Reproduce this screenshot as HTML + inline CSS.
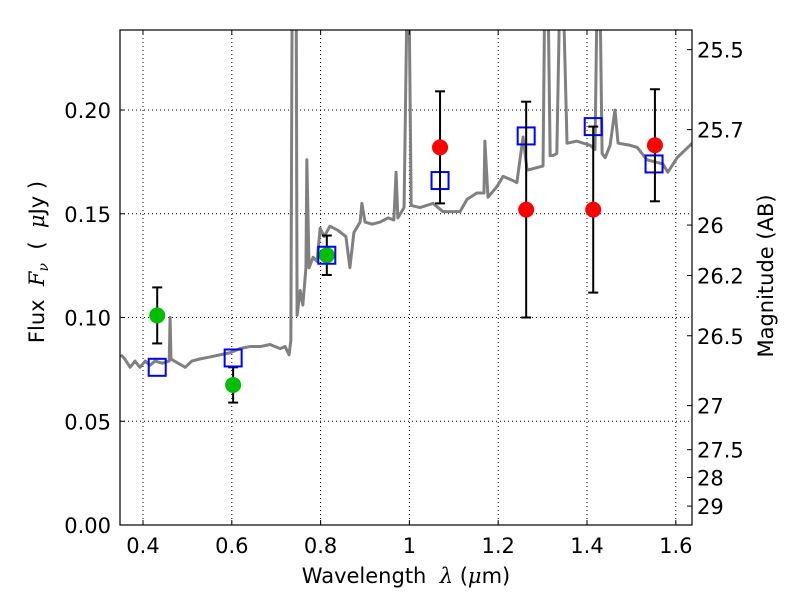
<!DOCTYPE html>
<html><head><meta charset="utf-8"><style>
body{margin:0;background:#fff;}
svg text{font-family:"DejaVu Sans","Liberation Sans",sans-serif;fill:#000;}
</style></head><body>
<svg id="chart" width="800" height="600" viewBox="0 0 800 600" xmlns="http://www.w3.org/2000/svg">
<rect width="800" height="600" fill="#fff"/>
<g id="grid"></g>
<g id="spec"></g>
<g id="marks"></g>
<g id="axes"></g>
<text x="406" y="583" font-size="21" text-anchor="middle">Wavelength&#160;&#160;<tspan font-family="DejaVu Serif" font-style="italic">λ</tspan> (<tspan font-family="DejaVu Serif" font-style="italic">μ</tspan>m)</text>
<text transform="translate(44,262) rotate(-90)" font-size="21" text-anchor="middle">Flux&#160;&#160;<tspan font-family="DejaVu Serif" font-style="italic">F</tspan><tspan font-family="DejaVu Serif" font-style="italic" font-size="14" dy="4">ν</tspan><tspan dy="-4">&#160;&#160;(&#160;&#160;</tspan><tspan font-family="DejaVu Serif" font-style="italic">μ</tspan>Jy&#160;)</text>
<text transform="translate(773,276) rotate(-90)" font-size="21" text-anchor="middle">Magnitude (AB)</text>
</svg>
<script>
const specLam=[0.35,0.359,0.371,0.382,0.393,0.405,0.416,0.427,0.443,0.459,0.461,0.463,0.479,0.495,0.510,0.528,0.551,0.573,0.596,0.618,0.641,0.664,0.686,0.709,0.720,0.729,0.733,0.736,0.745,0.747,0.754,0.760,0.767,0.769,0.774,0.783,0.792,0.799,0.808,0.821,0.839,0.857,0.866,0.875,0.889,0.893,0.900,0.916,0.934,0.952,0.965,0.970,0.974,0.988,0.995,0.999,1.004,1.024,1.053,1.076,1.114,1.130,1.152,1.168,1.170,1.177,1.197,1.211,1.233,1.242,1.256,1.265,1.301,1.305,1.312,1.317,1.323,1.332,1.339,1.346,1.355,1.377,1.407,1.418,1.423,1.429,1.434,1.441,1.452,1.463,1.470,1.497,1.513,1.535,1.571,1.582,1.603,1.637];
const specFlux=[0.082,0.080,0.076,0.079,0.076,0.079,0.077,0.079,0.078,0.079,0.100,0.080,0.078,0.076,0.079,0.080,0.081,0.082,0.083,0.085,0.086,0.086,0.087,0.085,0.086,0.082,0.089,0.26,0.26,0.101,0.113,0.106,0.124,0.176,0.124,0.129,0.127,0.143,0.139,0.144,0.142,0.139,0.124,0.141,0.146,0.155,0.146,0.145,0.146,0.148,0.147,0.170,0.148,0.153,0.26,0.26,0.154,0.153,0.155,0.151,0.151,0.157,0.160,0.160,0.185,0.158,0.163,0.168,0.166,0.165,0.187,0.171,0.173,0.26,0.26,0.178,0.178,0.179,0.26,0.26,0.184,0.185,0.183,0.181,0.26,0.26,0.179,0.177,0.183,0.200,0.184,0.183,0.182,0.176,0.174,0.170,0.177,0.184];
const greenLam=[0.432,0.603,0.814];
const greenFlux=[0.101,0.0675,0.130];
const greenErr=[0.0135,0.0085,0.0095];
const redLam=[1.069,1.263,1.414,1.553];
const redFlux=[0.182,0.152,0.152,0.183];
const redErr=[0.027,0.052,0.040,0.027];
const boxLam=[0.432,0.603,0.814,1.069,1.263,1.414,1.551];
const boxFlux=[0.076,0.0805,0.130,0.166,0.1875,0.192,0.174];
const xTicks=[0.4,0.6,0.8,1.0,1.2,1.4,1.6];
const xTickLabels=["0.4","0.6","0.8","1","1.2","1.4","1.6"];
const yTicks=[0,0.05,0.10,0.15,0.20];
const yTickLabels=["0.00","0.05","0.10","0.15","0.20"];
const magTicks=[25.5,25.7,26,26.2,26.5,27,27.5,28,29];
const magTickLabels=["25.5","25.7","26","26.2","26.5","27","27.5","28","29"];

const L=120,R=692,T=30,B=525;
const X=v=>143+(v-0.4)*444;
const Y=v=>525-v*2075;
const magToFlux=m=>Math.pow(10,(23.9-m)/2.5);
const NS="http://www.w3.org/2000/svg";
function mk(tag,parent,attrs){const e=document.createElementNS(NS,tag);for(const k in attrs)e.setAttribute(k,attrs[k]);parent.appendChild(e);return e;}
const grid=document.getElementById('grid'),spec=document.getElementById('spec'),marks=document.getElementById('marks'),axes=document.getElementById('axes');

xTicks.forEach((t,i)=>{
  const x=X(t);
  const g=mk('line',grid,{x1:x,x2:x,y1:T,y2:B,stroke:'#000','stroke-width':1,'stroke-dasharray':'1,3'});
  
  
  mk('line',axes,{x1:x,x2:x,y1:B,y2:B-5,stroke:'#000'});
  mk('line',axes,{x1:x,x2:x,y1:T,y2:T+5,stroke:'#000'});
  const tx=mk('text',axes,{x:x,y:B+28,'font-size':21,'text-anchor':'middle'});
  tx.textContent=xTickLabels[i];
  
  
});
yTicks.forEach((t,i)=>{
  const y=Y(t);
  if(t>0){const g=mk('line',grid,{x1:L,x2:R,y1:y,y2:y,stroke:'#000','stroke-width':1,'stroke-dasharray':'1,3'});
  
  }
  mk('line',axes,{x1:L,x2:L+5,y1:y,y2:y,stroke:'#000'});
  const tx=mk('text',axes,{x:L-9,y:y+8,'font-size':21,'text-anchor':'end'});
  tx.textContent=yTickLabels[i];
  
  
});
magTicks.forEach((m,i)=>{
  const y=Y(magToFlux(m));
  mk('line',axes,{x1:R,x2:R-5,y1:y,y2:y,stroke:'#000'});
  const tx=mk('text',axes,{x:R+5,y:y+8,'font-size':21});
  tx.textContent=magTickLabels[i];
  
  
});

const cp=mk('clipPath',document.getElementById('chart'),{id:'clip'});
mk('rect',cp,{x:L,y:T,width:R-L,height:B-T});
spec.setAttribute('clip-path','url(#clip)');
const pl=mk('polyline',spec,{points:specLam.map((l,i)=>X(l)+','+Y(specFlux[i])).join(' '),fill:'none',stroke:'#808080','stroke-width':3,'stroke-linejoin':'round'});



function errbar(x,y,e){
  mk('line',marks,{x1:x,x2:x,y1:Y(y+e),y2:Y(y-e),stroke:'#000','stroke-width':2});
  mk('line',marks,{x1:x-5,x2:x+5,y1:Y(y+e),y2:Y(y+e),stroke:'#000','stroke-width':2});
  mk('line',marks,{x1:x-5,x2:x+5,y1:Y(y-e),y2:Y(y-e),stroke:'#000','stroke-width':2});
}
greenLam.forEach((l,i)=>{
  errbar(X(l),greenFlux[i],greenErr[i]);
  const c=mk('circle',marks,{cx:X(l),cy:Y(greenFlux[i]),r:8,fill:'#00bf00'});
  
  
});
boxLam.forEach((l,i)=>{
  const s=mk('rect',marks,{x:X(l)-8.5,y:Y(boxFlux[i])-8.5,width:17,height:17,fill:'none',stroke:'#0000ff','stroke-width':2});
  
  
});
redLam.forEach((l,i)=>{
  errbar(X(l),redFlux[i],redErr[i]);
  const c=mk('circle',marks,{cx:X(l),cy:Y(redFlux[i]),r:8,fill:'#ff0000'});
  
  
});
const fr=mk('rect',axes,{x:L,y:T,width:R-L,height:B-T,fill:'none',stroke:'#000','stroke-width':1.2});


</script>
</body></html>
